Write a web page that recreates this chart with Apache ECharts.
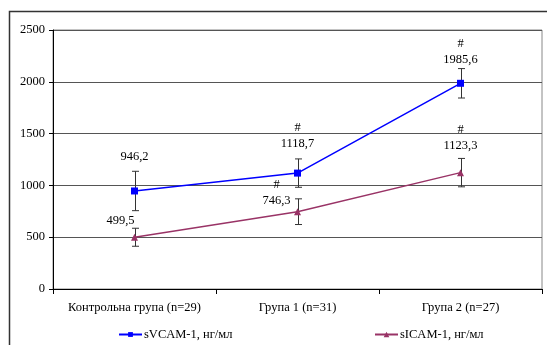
<!DOCTYPE html>
<html><head><meta charset="utf-8">
<script src="https://cdn.jsdelivr.net/npm/echarts@6/dist/echarts.min.js"></script>
<style>html,body{margin:0;padding:0;background:#fff}#c{width:547px;height:345px}</style>
</head><body><div id="c"></div>
<script>
var categories = ['Контрольна група (n=29)', 'Група 1 (n=31)', 'Група 2 (n=27)'];
var svcamValues = [946.2, 1118.7, 1985.6];
var svcamErrors = [190, 137, 142];
var svcamSignificant = [false, true, true];
var sicamValues = [499.5, 746.3, 1123.3];
var sicamErrors = [87, 124, 137];
var sicamSignificant = [false, true, true];
var yTicks = [0, 500, 1000, 1500, 2000, 2500];

// label layout (pixel offsets of label block bottom relative to point)
var svcamLabelOffsets = [[0, -27], [0, -22], [0, -17]];
var sicamLabelOffsets = [[-14, -10], [-21, -4], [0, -20]];

var FONT = 'Liberation Serif';
var FS = 12.5;
function fmt(v){ return String(v).replace('.', ','); }
function buildData(vals, sig, offs){
  return vals.map(function(v, i){
    return {
      value: v,
      label: {
        show: true, position: 'inside', offset: offs[i],
        align: 'center', verticalAlign: 'bottom',
        formatter: (sig[i] ? '{h|#}\n' : '') + '{v|' + fmt(v) + '}',
        rich: {
          h: {fontFamily: FONT, fontSize: FS, color: '#000', lineHeight: 18, align: 'center'},
          v: {fontFamily: FONT, fontSize: FS, color: '#000', lineHeight: 14, align: 'center'}
        }
      }
    };
  });
}
function errData(vals, errs){
  return vals.map(function(v, i){ return [i, v - errs[i], v + errs[i]]; });
}
function errRender(params, api){
  var x = api.value(0);
  var lo = api.coord([x, api.value(1)]);
  var hi = api.coord([x, api.value(2)]);
  var cx = Math.round(lo[0]) + 0.5;
  var w = 3.5;
  var st = {stroke: '#333', lineWidth: 1};
  return {type: 'group', children: [
    {type: 'line', shape: {x1: cx, y1: hi[1], x2: cx, y2: lo[1]}, style: st},
    {type: 'line', shape: {x1: cx - w, y1: hi[1], x2: cx + w, y2: hi[1]}, style: st},
    {type: 'line', shape: {x1: cx - w, y1: lo[1], x2: cx + w, y2: lo[1]}, style: st}
  ]};
}

var chart = echarts.init(document.getElementById('c'), null, {renderer: 'canvas'});
chart.setOption({
  animation: false,
  backgroundColor: '#fff',
  textStyle: {fontFamily: FONT},
  graphic: [{type: 'rect', shape: {x: 9.5, y: 11.5, width: 700, height: 500},
    style: {fill: 'none', stroke: '#333', lineWidth: 1.5}, silent: true, z: 100}],
  grid: {left: 53, top: 30, right: 5, bottom: 56, show: true, borderColor: '#888', borderWidth: 1},
  legend: [
    {data: ['sVCAM-1, нг/мл'], left: 118, top: 328, padding: 0, itemWidth: 23, itemHeight: 6, itemGap: 2,
      textStyle: {fontFamily: FONT, fontSize: FS, color: '#000', padding: [0,0,0,-3]}},
    {data: ['sICAM-1, нг/мл'], left: 374, top: 328, padding: 0, itemWidth: 23, itemHeight: 7, itemGap: 2,
      textStyle: {fontFamily: FONT, fontSize: FS, color: '#000', padding: [0,0,0,-3]}}
  ],
  xAxis: {
    type: 'category', data: categories, boundaryGap: true,
    axisLine: {lineStyle: {color: '#000', width: 1}},
    axisTick: {show: true, length: 5, alignWithLabel: false, interval: 0, lineStyle: {color: '#000'}},
    axisLabel: {fontFamily: FONT, fontSize: FS, color: '#000', margin: 12, interval: 0}
  },
  yAxis: {
    type: 'value', min: yTicks[0], max: yTicks[yTicks.length - 1], interval: 500,
    axisLine: {show: true, lineStyle: {color: '#000', width: 1}},
    axisTick: {show: true, length: 4, lineStyle: {color: '#000'}},
    axisLabel: {fontFamily: FONT, fontSize: FS, color: '#000', margin: 8,
      formatter: function(v){ return String(v); }},
    splitLine: {show: true, lineStyle: {color: '#555', width: 1}}
  },
  series: [
    {type: 'custom', name: 'errV', renderItem: errRender, data: errData(svcamValues, svcamErrors), z: 1, silent: true},
    {type: 'custom', name: 'errI', renderItem: errRender, data: errData(sicamValues, sicamErrors), z: 1, silent: true},
    {type: 'line', name: 'sVCAM-1, нг/мл', data: buildData(svcamValues, svcamSignificant, svcamLabelOffsets),
      color: '#0000ff', symbol: 'rect', symbolSize: 7, showAllSymbol: true,
      lineStyle: {color: '#0000ff', width: 1.5}, itemStyle: {color: '#0000ff'}, z: 3},
    {type: 'line', name: 'sICAM-1, нг/мл', data: buildData(sicamValues, sicamSignificant, sicamLabelOffsets),
      color: '#993366', symbol: 'triangle', symbolSize: 7, showAllSymbol: true,
      lineStyle: {color: '#993366', width: 1.5}, itemStyle: {color: '#993366'}, z: 3}
  ]
});
</script></body></html>
